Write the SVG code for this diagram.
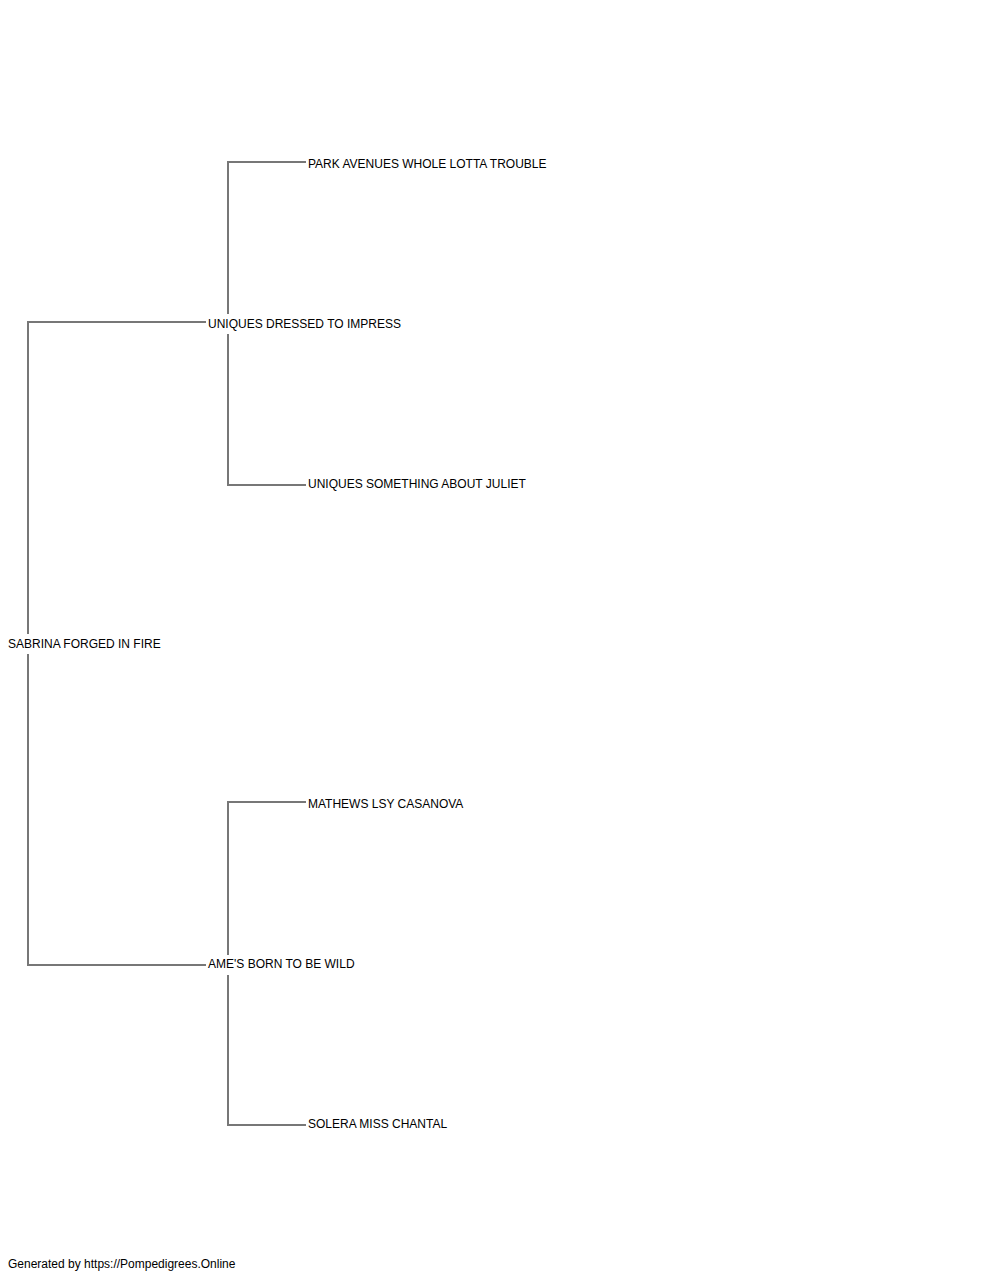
<svg xmlns="http://www.w3.org/2000/svg" width="1000" height="1280" viewBox="0 0 1000 1280">
<style>
.t{font-family:"Liberation Sans",Arial,sans-serif;font-size:12px;fill:#000}
.c{stroke:#777;stroke-width:2;fill:none}
</style>
<rect width="1000" height="1280" fill="#fff"/>
<g id="connectors">
<path class="c" d="M206,322 H28 V634 M28,654 V965 H206"/>
<path class="c" d="M306,162 H228 V314 M228,334 V485 H306"/>
<path class="c" d="M306,802 H228 V955 M228,975 V1125 H306"/>
</g>
<g id="n-root"><text class="t" x="8" y="648">SABRINA FORGED IN FIRE</text></g>
<g id="n-sire"><text class="t" x="208" y="328">UNIQUES DRESSED TO IMPRESS</text></g>
<g id="n-dam"><text class="t" x="208" y="968">AME'S BORN TO BE WILD</text></g>
<g id="n-ss"><text class="t" x="308" y="168">PARK AVENUES WHOLE LOTTA TROUBLE</text></g>
<g id="n-sd"><text class="t" x="308" y="488">UNIQUES SOMETHING ABOUT JULIET</text></g>
<g id="n-ds"><text class="t" x="308" y="808">MATHEWS LSY CASANOVA</text></g>
<g id="n-dd"><text class="t" x="308" y="1128">SOLERA MISS CHANTAL</text></g>
<text class="t" x="8" y="1268">Generated by https://Pompedigrees.Online</text>
</svg>
